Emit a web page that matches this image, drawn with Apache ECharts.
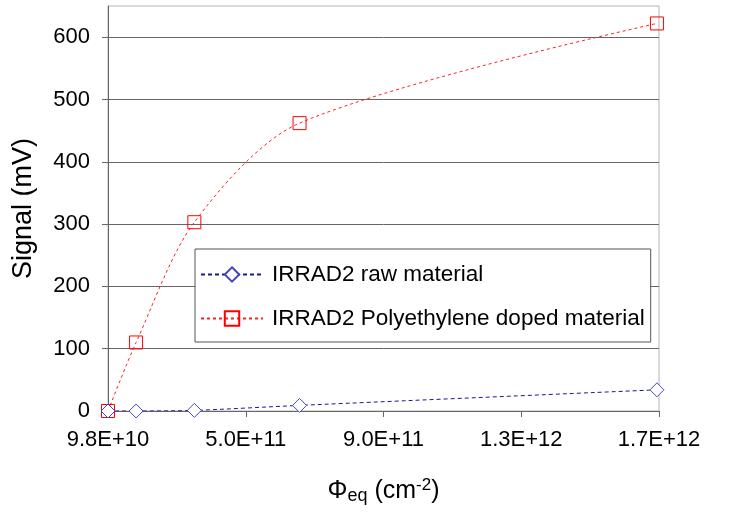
<!DOCTYPE html>
<html>
<head>
<meta charset="utf-8">
<script src="https://cdn.jsdelivr.net/npm/echarts@6/dist/echarts.min.js"></script>
<style>
  html, body { margin: 0; padding: 0; background: #fff; }
  #chart { width: 730px; height: 516px; }
</style>
</head>
<body>
<div id="chart"></div>
<script>
  // fluence values (cm^-2) shared by both series
  var fluence = [9.8e10, 1.8e11, 3.5e11, 6.57e11, 1.7e12];
  var rawSignal = [0, 0, 1, 9, 34];
  var pedSignal = [0, 110, 303, 462, 622];

  var xTickValues = [9.8e10, 5.0e11, 9.02e11, 1.304e12, 1.706e12];
  var xTickLabels = ['9.8E+10', '5.0E+11', '9.0E+11', '1.3E+12', '1.7E+12'];
  var yTickValues = [0, 100, 200, 300, 400, 500, 600];

  var seriesNames = ['IRRAD2 raw material', 'IRRAD2 Polyethylene doped material'];

  function pairs(xs, ys) {
    return xs.map(function (x, i) { return [x, ys[i]]; });
  }

  var chart = echarts.init(document.getElementById('chart'));
  var font = '"Liberation Sans", Arial, sans-serif';

  chart.setOption({
    animation: false,
    textStyle: { fontFamily: font },
    grid: {
      left: 108, right: 71, top: 6, bottom: 105,
      show: true,
      borderColor: '#b4b4b4',
      borderWidth: 1
    },
    legend: {
      orient: 'vertical',
      left: 195,
      top: 249,
      padding: [14, 6, 12, 5],
      itemWidth: 62,
      itemHeight: 18,
      itemGap: 21,
      backgroundColor: '#fff',
      borderColor: '#555',
      borderWidth: 1,
      borderRadius: 0,
      textStyle: { fontSize: 22.5, color: '#000', fontFamily: font, padding: [0, 0, 0, 4] },
      data: seriesNames
    },
    xAxis: {
      type: 'value',
      min: 9.8e10,
      max: 1.706e12,
      name: '{phi|Φ}{sub|eq}{txt| (cm}{sup|-2}{txt|)}',
      nameLocation: 'middle',
      nameGap: 66,
      nameTextStyle: {
        color: '#000',
        rich: {
          phi: { fontSize: 25, fontFamily: font, color: '#000' },
          txt: { fontSize: 25, fontFamily: font, color: '#000' },
          sub: { fontSize: 18, fontFamily: font, color: '#000', verticalAlign: 'bottom', padding: [10, 0, 0, 0] },
          sup: { fontSize: 17, fontFamily: font, color: '#000', verticalAlign: 'top', padding: [0, 0, 10, 0] }
        }
      },
      axisLine: { lineStyle: { color: '#666', width: 1 } },
      axisTick: {
        customValues: xTickValues,
        length: 6,
        lineStyle: { color: '#666' }
      },
      axisLabel: {
        customValues: xTickValues,
        margin: 18,
        fontSize: 22,
        color: '#000',
        formatter: function (v) {
          var i = xTickValues.indexOf(v);
          return i >= 0 ? xTickLabels[i] : '';
        }
      },
      splitLine: { show: false }
    },
    yAxis: {
      type: 'value',
      min: 0,
      max: 650,
      name: 'Signal (mV)',
      nameLocation: 'middle',
      nameGap: 71,
      nameTextStyle: { fontSize: 27, color: '#000' },
      axisLine: { show: true, lineStyle: { color: '#666', width: 1 } },
      axisTick: {
        show: true,
        customValues: yTickValues,
        length: 6,
        lineStyle: { color: '#666' }
      },
      axisLabel: {
        customValues: yTickValues,
        margin: 18,
        fontSize: 22,
        color: '#000'
      },
      splitLine: { show: true, lineStyle: { color: '#666', width: 1 } }
    },
    series: [
      {
        name: seriesNames[0],
        type: 'line',
        smooth: 0.3,
        z: 4,
        data: pairs(fluence, rawSignal),
        symbol: 'diamond',
        symbolSize: 14,
        lineStyle: { color: '#1a1a90', width: 1, type: [4, 3] },
        itemStyle: { color: '#fff', borderColor: '#4848b8', borderWidth: 1 }
      },
      {
        name: seriesNames[1],
        type: 'line',
        smooth: 0.3,
        z: 3,
        data: pairs(fluence, pedSignal),
        symbol: 'rect',
        symbolSize: 13,
        lineStyle: { color: '#ff2020', width: 1, type: [3, 3] },
        itemStyle: { color: 'rgba(255,255,255,0)', borderColor: '#ff0000', borderWidth: 1 }
      }
    ]
  });
</script>
</body>
</html>
